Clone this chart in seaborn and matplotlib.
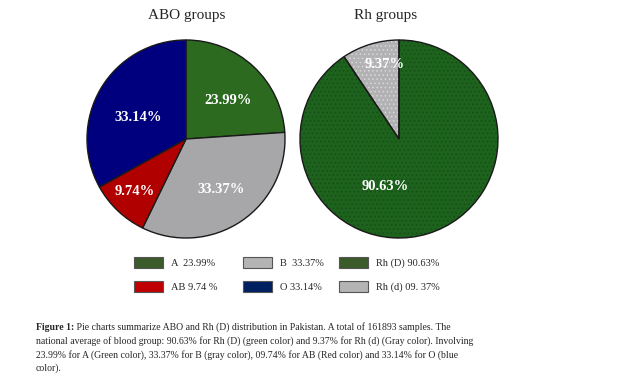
import matplotlib
matplotlib.use("Agg")
import matplotlib.pyplot as plt
import seaborn as sns
from matplotlib.patches import Patch

sns.set_theme(style="white")
plt.rcParams['font.family'] = ['Liberation Serif', 'DejaVu Serif']

# data
abo_groups = ["A", "B", "AB", "O"]
abo_values = [23.99, 33.37, 9.74, 33.14]
abo_labels = ["23.99%", "33.37%", "9.74%", "33.14%"]
abo_colors = ["#2b6a1f", "#a7a7a9", "#b00000", "#00007e"]

rh_groups = ["Rh (D)", "Rh (d)"]
rh_values = [90.63, 9.37]
rh_labels = ["90.63%", "9.37%"]
rh_colors = ["#1d621d", "#b2b2b4"]

legend_cols = [
    [("A  23.99%", "#3b5b2b"), ("AB 9.74 %", "#c00000")],
    [("B  33.37%", "#b4b4b4"), ("O 33.14%", "#002060")],
    [("Rh (D) 90.63%", "#3b5b2b"), ("Rh (d) 09. 37%", "#b4b4b4")],
]

caption_lines = [
    "national average of blood group: 90.63% for Rh (D) (green color) and 9.37% for Rh (d) (Gray color). Involving",
    "23.99% for A (Green color), 33.37% for B (gray color), 09.74% for AB (Red color) and 33.14% for O (blue",
    "color).",
]

fig = plt.figure(figsize=(6.17, 3.89), dpi=100)
W, H = 617, 389

# ABO pie
ax1 = fig.add_axes([86 / W, (H - 239) / H, 200 / W, 200 / H])
wedges, _ = ax1.pie(abo_values, colors=abo_colors, startangle=90, counterclock=False,
                    wedgeprops=dict(edgecolor="#1a1a1a", linewidth=1.0))
abo_pos = [(0.42, 0.39), (0.35, -0.51), (-0.52, -0.53), (-0.48, 0.22)]
for lab, (x, y) in zip(abo_labels, abo_pos):
    ax1.text(x, y, lab, color="white", fontsize=10.5, fontweight="bold",
             ha="center", va="center")
ax1.set_xlim(-1.01, 1.01)
ax1.set_ylim(-1.01, 1.01)
ax1.set_aspect("equal")
ax1.axis("off")
fig.text(187 / W, 1 - 15 / H, "ABO groups", fontsize=11, ha="center", va="center")

# Rh pie (dotted fill, then outline)
ax2 = fig.add_axes([299 / W, (H - 239) / H, 200 / W, 200 / H])
plt.rcParams['hatch.linewidth'] = 0.6
w2, _ = ax2.pie(rh_values, colors=rh_colors, startangle=90, counterclock=False,
                wedgeprops=dict(linewidth=0))
for w, hc in zip(w2, ["#174d17", "#d8d8d8"]):
    w.set_hatch("....")
    w.set_edgecolor(hc)
w3, _ = ax2.pie(rh_values, startangle=90, counterclock=False,
                wedgeprops=dict(edgecolor="#1a1a1a", linewidth=1.0))
for w in w3:
    w.set_fill(False)
rh_pos = [(-0.14, -0.48), (-0.14, 0.75)]
for lab, (x, y) in zip(rh_labels, rh_pos):
    ax2.text(x, y, lab, color="white", fontsize=10.5, fontweight="bold",
             ha="center", va="center")
ax2.set_xlim(-1.01, 1.01)
ax2.set_ylim(-1.01, 1.01)
ax2.set_aspect("equal")
ax2.axis("off")
fig.text(386 / W, 1 - 15 / H, "Rh groups", fontsize=11, ha="center", va="center")

# legends, one per column
col_x = [129, 238, 334]
for cx, entries in zip(col_x, legend_cols):
    handles = [Patch(facecolor=c, edgecolor="#555555", linewidth=0.8, label=t)
               for t, c in entries]
    fig.legend(handles=handles, loc="upper left",
               bbox_to_anchor=(cx / W, 1 - 252 / H), frameon=False,
               fontsize=7.5, handlelength=2.8, handleheight=1.25,
               handletextpad=0.7, labelspacing=1.2, borderpad=0)

# caption
t0 = fig.text(36 / W, 1 - 327 / H, "Figure 1:", fontsize=7, fontweight="bold",
              ha="left", va="center")
ax1.annotate(" Pie charts summarize ABO and Rh (D) distribution in Pakistan. A total of 161893 samples. The",
             xy=(1, 0.5), xycoords=t0, va="center", ha="left", fontsize=7,
             annotation_clip=False)
for i, line in enumerate(caption_lines):
    fig.text(36 / W, 1 - (341 + 13.6 * i) / H, line, fontsize=7,
             ha="left", va="center")

fig.savefig("out.png", dpi=100)
